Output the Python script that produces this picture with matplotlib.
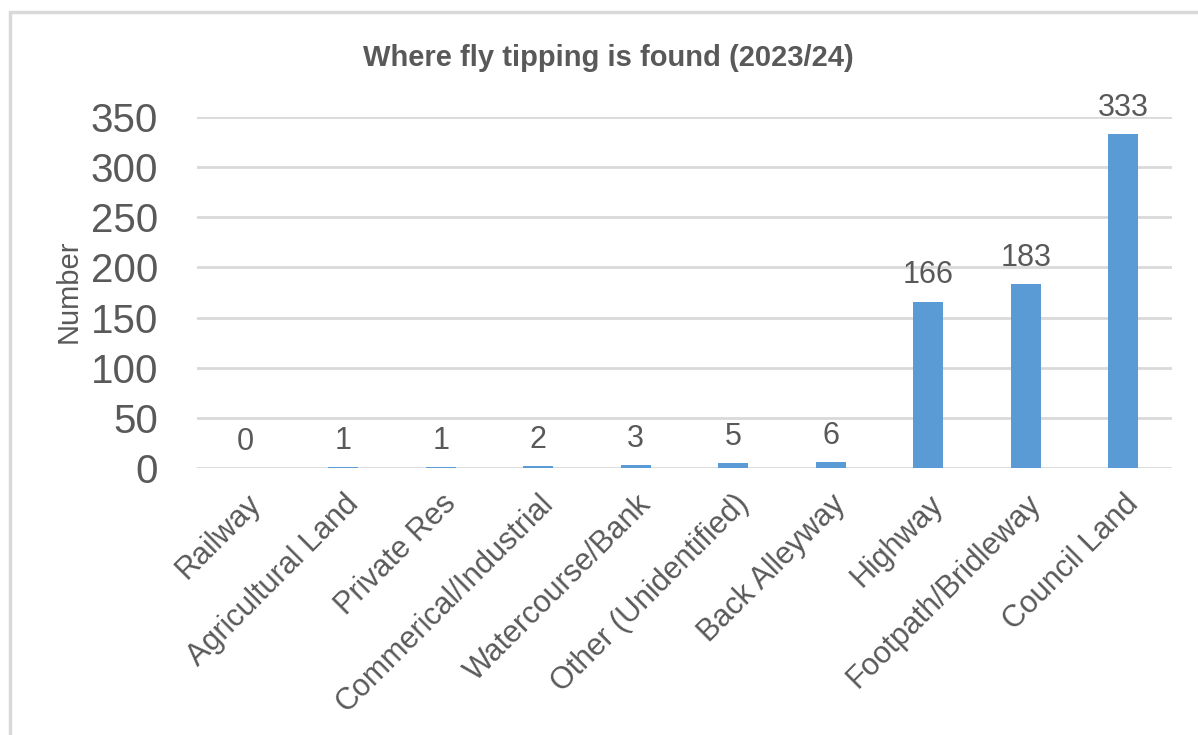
import matplotlib
matplotlib.use("Agg")
import matplotlib.pyplot as plt
from matplotlib.patches import Rectangle

categories = ["Railway", "Agricultural Land", "Private Res", "Commerical/Industrial",
              "Watercourse/Bank", "Other (Unidentified)", "Back Alleyway", "Highway",
              "Footpath/Bridleway", "Council Land"]
values = [0, 1, 1, 2, 3, 5, 6, 166, 183, 333]
yticks = [0, 50, 100, 150, 200, 250, 300, 350]

plt.rcParams['font.family'] = ['Liberation Sans', 'DejaVu Sans']
TXT = '#595959'
BAR = '#5B9BD5'
GRID = '#D9D9D9'

fig = plt.figure(figsize=(11.98, 7.35), dpi=100)
fig.patch.set_facecolor('white')
fig.patches.append(Rectangle((10/1198, -0.05), 1.2, 1 - 12/735 + 0.05, transform=fig.transFigure,
                             facecolor='none', edgecolor=GRID, linewidth=2.5, zorder=0))

ax = fig.add_axes([197/1198, 1 - 468/735, (1172-197)/1198, (468-117)/735])
x = list(range(len(categories)))
ax.bar(x, values, width=0.31, color=BAR, zorder=3)
ax.set_xlim(-0.5, len(categories) - 0.5)
ax.set_ylim(0, 350)
ax.set_yticks(yticks)
ax.set_yticklabels([str(t) for t in yticks], fontsize=29, color=TXT)
ax.yaxis.grid(True, color=GRID, linewidth=2, zorder=0)
ax.set_axisbelow(True)
for s in ax.spines.values():
    s.set_visible(False)
ax.tick_params(axis='y', length=0, pad=28)
ax.tick_params(axis='x', length=0, pad=15)
ax.set_xticks(x)
ax.set_xticklabels(categories, rotation=45, ha='right', rotation_mode='anchor',
                   fontsize=22, color=TXT)
for xi, v in zip(x, values):
    ax.annotate(str(v), (xi, v), xytext=(0, 8), textcoords='offset points',
                ha='center', va='bottom', fontsize=22, color=TXT, annotation_clip=False)

fig.text(69/1198, 1 - 291/735, "Number", rotation=90, ha='center', va='center',
         fontsize=21, color=TXT)
fig.text(608/1198, 1 - 58/735, "Where fly tipping is found (2023/24)", ha='center', va='center',
         fontsize=21, fontweight='bold', color=TXT)

fig.savefig("out.png", dpi=100)
